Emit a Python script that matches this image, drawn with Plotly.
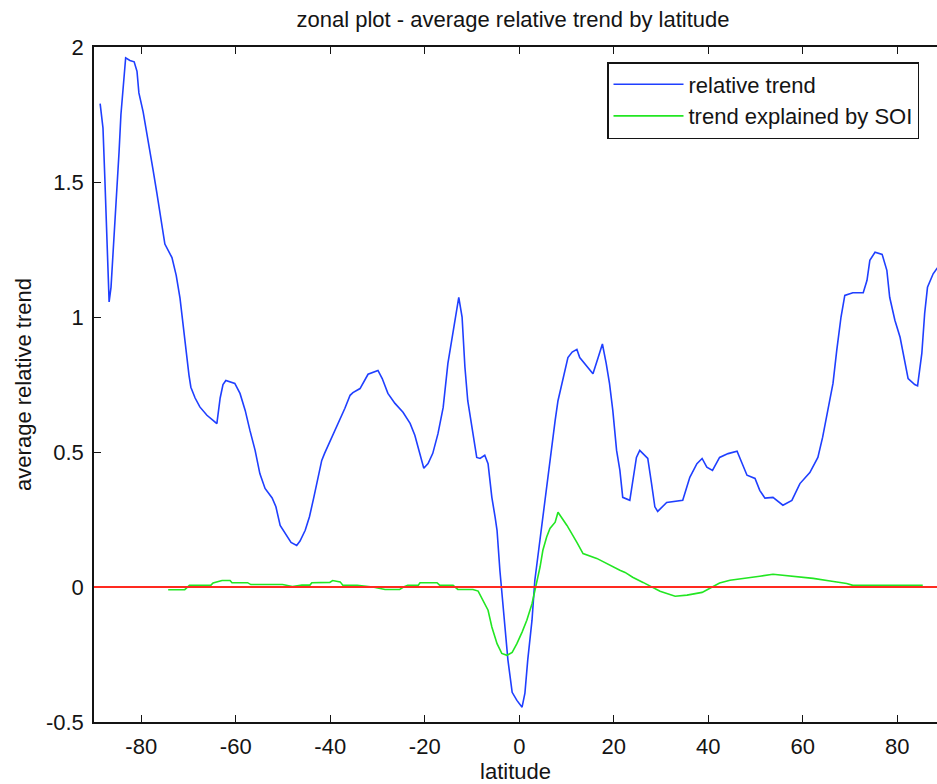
import plotly.graph_objects as go

# ---- data ----
lat_trend = [-88.7, -88.1, -87.7, -87.4, -87.1, -86.8, -86.4, -86.0, -85.6, -85.2,
             -84.7, -84.3, -83.7, -83.3, -82.4, -81.5, -80.9, -80.5, -79.6, -78.8,
             -78.1, -77.5, -76.7, -75.8, -75.0, -73.5, -72.6, -71.8, -71.1, -70.5,
             -69.9, -69.5, -68.6, -67.6, -66.1, -64.8, -64.0, -63.3, -62.7, -62.1,
             -60.2, -59.1, -58.0, -57.0, -55.9, -54.9, -53.8, -52.3, -51.5, -50.6,
             -49.5, -48.3, -47.1, -46.4, -45.3, -44.4, -43.5, -42.9, -41.8, -41.2,
             -40.1, -39.0, -37.9, -36.9, -35.8, -35.2, -33.7, -33.1, -32.0, -29.9,
             -29.0, -27.8, -26.3, -24.6, -23.1, -22.1, -21.0, -20.2, -19.3, -18.3,
             -17.2, -16.1, -15.1, -14.0, -13.2, -12.8, -12.1, -11.5, -10.9, -10.0,
             -9.0, -8.3, -7.3, -6.6, -5.8, -5.1, -4.7, -4.1, -3.2, -2.4,
             -1.5, -0.5, 0.6, 1.2, 1.8, 2.7, 3.3, 4.0, 4.8, 6.1,
             6.9, 7.6, 8.2, 9.0, 9.7, 10.3, 11.2, 12.2, 12.8, 13.9,
             15.6, 16.7, 17.6, 18.4, 19.1, 19.8, 20.6, 21.3, 21.9, 23.4,
             24.0, 24.8, 25.5, 27.2, 28.0, 28.7, 29.3, 31.2, 34.6, 36.1,
             37.6, 38.7, 39.7, 40.9, 42.4, 44.2, 46.1, 47.1, 48.2, 49.9,
             50.9, 52.0, 53.7, 55.8, 57.7, 59.4, 61.5, 63.2, 64.2, 65.3,
             66.4, 67.2, 68.1, 68.9, 70.6, 72.8, 73.6, 74.2, 75.3, 76.8,
             77.8, 78.4, 79.5, 80.6, 81.6, 82.3, 83.7, 84.3, 85.2, 85.8,
             86.4, 87.6, 88.4, 89.0]
relative_trend = [1.79, 1.70, 1.51, 1.33, 1.15, 1.056, 1.11, 1.22, 1.35, 1.46,
                  1.61, 1.75, 1.89, 1.96, 1.95, 1.945, 1.91, 1.83, 1.76, 1.68,
                  1.62, 1.545, 1.46, 1.36, 1.27, 1.22, 1.154, 1.07, 0.96, 0.877,
                  0.785, 0.74, 0.70, 0.667, 0.636, 0.617, 0.605, 0.70, 0.75, 0.765,
                  0.754, 0.717, 0.654, 0.58, 0.506, 0.42, 0.365, 0.33, 0.297, 0.228,
                  0.20, 0.165, 0.154, 0.17, 0.21, 0.26, 0.33, 0.383, 0.469, 0.495,
                  0.537, 0.58, 0.618, 0.662, 0.71, 0.72, 0.735, 0.754, 0.788, 0.802,
                  0.772, 0.717, 0.68, 0.647, 0.606, 0.562, 0.495, 0.44, 0.457, 0.495,
                  0.568, 0.665, 0.828, 0.95, 1.025, 1.073, 1.0, 0.815, 0.69, 0.592,
                  0.48, 0.476, 0.488, 0.457, 0.332, 0.258, 0.21, 0.062, -0.123, -0.27,
                  -0.39, -0.42, -0.445, -0.393, -0.27, -0.123, 0.025, 0.124, 0.236, 0.406,
                  0.517, 0.617, 0.69, 0.754, 0.802, 0.85, 0.87, 0.88, 0.85, 0.828,
                  0.79, 0.85, 0.90, 0.828, 0.754, 0.654, 0.506, 0.432, 0.332, 0.321,
                  0.383, 0.48, 0.506, 0.476, 0.383, 0.297, 0.28, 0.313, 0.321, 0.406,
                  0.457, 0.476, 0.444, 0.432, 0.48, 0.494, 0.503, 0.457, 0.414, 0.402,
                  0.358, 0.329, 0.332, 0.303, 0.321, 0.383, 0.424, 0.48, 0.554, 0.654,
                  0.754, 0.877, 1.0, 1.08, 1.09, 1.09, 1.136, 1.21, 1.24, 1.232,
                  1.173, 1.073, 0.988, 0.925, 0.828, 0.772, 0.75, 0.745, 0.865, 1.013,
                  1.11, 1.16, 1.18, 1.19]

lat_soi = [-74.3, -70.8, -69.8, -65.3, -64.8, -62.9, -61.2, -60.8, -57.5, -56.8,
           -50.1, -48.0, -46.0, -44.3, -43.9, -40.1, -39.5, -37.9, -37.3, -34.3,
           -31.0, -28.4, -25.3, -24.5, -23.6, -21.4, -21.0, -17.4, -16.8, -14.0,
           -13.0, -9.8, -8.7, -7.7, -6.6, -5.8, -4.7, -3.7, -2.6, -1.5,
           -0.5, 0.6, 1.6, 2.7, 3.7, 4.4, 5.0, 5.8, 6.5, 7.6,
           8.2, 10.1, 12.2, 13.5, 16.4, 19.2, 21.3, 22.4, 24.0, 26.2,
           27.7, 29.8, 33.0, 35.5, 38.7, 40.7, 42.4, 44.6, 48.2, 50.9,
           53.7, 57.9, 62.2, 65.8, 69.3, 70.6, 85.4]
trend_soi = [-0.01, -0.01, 0.006, 0.006, 0.015, 0.024, 0.024, 0.016, 0.016, 0.009,
             0.009, 0.002, 0.007, 0.007, 0.016, 0.017, 0.024, 0.019, 0.006, 0.006,
             0.0, -0.009, -0.009, 0.0, 0.006, 0.006, 0.016, 0.016, 0.006, 0.006,
             -0.009, -0.009, -0.015, -0.05, -0.086, -0.148, -0.21, -0.246, -0.253, -0.242,
             -0.21, -0.167, -0.123, -0.062, 0.013, 0.074, 0.136, 0.185, 0.217, 0.24,
             0.277, 0.228, 0.165, 0.124, 0.106, 0.08, 0.062, 0.054, 0.036, 0.017,
             0.002, -0.016, -0.034, -0.03, -0.02, 0.0, 0.015, 0.025, 0.032, 0.04,
             0.047, 0.04, 0.032, 0.022, 0.013, 0.006, 0.006]

zero_level = 0.0

x_ticks = [-80, -60, -40, -20, 0, 20, 40, 60, 80]
x_tick_text = ["-80", "-60", "-40", "-20", "0", "20", "40", "60", "80"]
y_ticks = [-0.5, 0, 0.5, 1, 1.5, 2]
y_tick_text = ["-0.5", "0", "0.5", "1", "1.5", "2"]

BLUE = "#1f3fff"
GREEN = "#22e622"
RED = "#ff2a20"
INK = "#141414"
FONT = "Liberation Sans, Arial, Helvetica, sans-serif"

fig = go.Figure()
fig.add_trace(go.Scatter(x=lat_trend, y=relative_trend, mode="lines",
                         name="relative trend", line=dict(color=BLUE, width=1.6)))
fig.add_trace(go.Scatter(x=lat_soi, y=trend_soi, mode="lines",
                         name="trend explained by SOI", line=dict(color=GREEN, width=1.6)))

fig.add_shape(type="line", xref="paper", x0=0, x1=1, yref="y", y0=zero_level, y1=zero_level,
              line=dict(color=RED, width=1.8), layer="above")

axis_common = dict(
    ticks="inside", ticklen=7, tickwidth=1.3, tickcolor=INK,
    showline=True, linecolor=INK, linewidth=1.5,
    showgrid=False, zeroline=False,
    tickfont=dict(size=22, color=INK, family=FONT),
)

fig.update_layout(
    width=937, height=784,
    margin=dict(l=94, r=0, t=47, b=62),
    paper_bgcolor="white", plot_bgcolor="white",
    font=dict(family=FONT, size=22, color=INK),
    title=dict(text="zonal plot - average relative trend by latitude",
               xref="container", x=513 / 937, xanchor="center",
               yref="container", y=1 - 19.5 / 784, yanchor="middle",
               font=dict(size=22, color=INK, family=FONT)),
    showlegend=True,
    legend=dict(xref="paper", x=(919 - 94) / (937 - 94), xanchor="right",
                yref="paper", y=(722 - 62) / 675, yanchor="top",
                bordercolor=INK, borderwidth=1.5, bgcolor="white",
                itemwidth=70, font=dict(size=22, color=INK, family=FONT),
                tracegroupgap=0),
    xaxis=dict(range=[-90, -90 + (937 - 94) / 4.725], tickvals=x_ticks, ticktext=x_tick_text,
               mirror="ticks", ticklabelstandoff=4,
               title=dict(text="latitude", standoff=2, font=dict(size=22, color=INK, family=FONT)),
               **axis_common),
    yaxis=dict(range=[-0.5, 2], tickvals=y_ticks, ticktext=y_tick_text,
               mirror=False, ticklabelstandoff=4,
               title=dict(text="average relative trend", standoff=8,
                          font=dict(size=22, color=INK, family=FONT)),
               **axis_common),
)

fig.write_html("out.html")
